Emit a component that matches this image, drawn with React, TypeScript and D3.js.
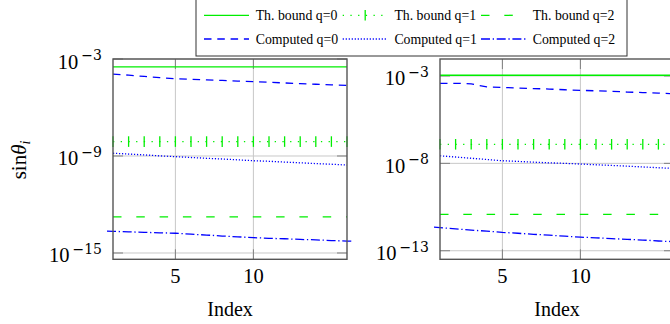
import React from "react";
import * as d3 from "d3";

// Index axis (1..16)
const indices = [1, 2, 3, 4, 5, 6, 7, 8, 9, 10, 11, 12, 13, 14, 15, 16];

// Left panel series
const leftTh0 = [3.3e-4, 3.3e-4, 3.3e-4, 3.3e-4, 3.3e-4, 3.3e-4, 3.3e-4, 3.3e-4, 3.3e-4, 3.3e-4, 3.3e-4, 3.3e-4, 3.3e-4, 3.3e-4, 3.3e-4, 3.3e-4];
const leftC0 = [1.17e-4, 1.0e-4, 8.3e-5, 7.1e-5, 6.0e-5, 5.6e-5, 5.1e-5, 4.7e-5, 4.3e-5, 4.0e-5, 3.6e-5, 3.3e-5, 3.0e-5, 2.75e-5, 2.5e-5, 2.35e-5];
const leftTh1 = [7.8e-9, 7.8e-9, 7.8e-9, 7.8e-9, 7.8e-9, 7.8e-9, 7.8e-9, 7.8e-9, 7.8e-9, 7.8e-9, 7.8e-9, 7.8e-9, 7.8e-9, 7.8e-9, 7.8e-9, 7.8e-9];
const leftC1 = [1.48e-9, 1.32e-9, 1.17e-9, 1.02e-9, 9.1e-10, 8.1e-10, 7.2e-10, 6.5e-10, 5.8e-10, 5.1e-10, 4.7e-10, 4.2e-10, 3.8e-10, 3.4e-10, 3.1e-10, 2.75e-10];
const leftTh2 = [1.7e-13, 1.7e-13, 1.7e-13, 1.7e-13, 1.7e-13, 1.7e-13, 1.7e-13, 1.7e-13, 1.7e-13, 1.7e-13, 1.7e-13, 1.7e-13, 1.7e-13, 1.7e-13, 1.7e-13, 1.7e-13];
const leftC2 = [2.19e-14, 2.04e-14, 1.9e-14, 1.78e-14, 1.66e-14, 1.45e-14, 1.29e-14, 1.12e-14, 1.0e-14, 8.9e-15, 8.1e-15, 7.6e-15, 6.9e-15, 6.5e-15, 5.9e-15, 5.5e-15];

// Right panel series
const rightTh0 = [1.1e-3, 1.1e-3, 1.1e-3, 1.1e-3, 1.1e-3, 1.1e-3, 1.1e-3, 1.1e-3, 1.1e-3, 1.1e-3, 1.1e-3, 1.1e-3, 1.1e-3, 1.1e-3, 1.1e-3, 1.1e-3];
const rightC0 = [3.8e-4, 3.8e-4, 3.55e-4, 2.35e-4, 2.2e-4, 2.05e-4, 1.9e-4, 1.78e-4, 1.62e-4, 1.51e-4, 1.41e-4, 1.32e-4, 1.2e-4, 1.12e-4, 1.05e-4, 9.5e-5];
const rightTh1 = [1.23e-7, 1.23e-7, 1.23e-7, 1.23e-7, 1.23e-7, 1.23e-7, 1.23e-7, 1.23e-7, 1.23e-7, 1.23e-7, 1.23e-7, 1.23e-7, 1.23e-7, 1.23e-7, 1.23e-7, 1.23e-7];
const rightC1 = [2.7e-8, 2.3e-8, 1.95e-8, 1.66e-8, 1.41e-8, 1.29e-8, 1.17e-8, 1.07e-8, 1.0e-8, 9.1e-9, 8.3e-9, 7.6e-9, 6.9e-9, 6.2e-9, 5.6e-9, 5.1e-9];
const rightTh2 = [1.2e-11, 1.2e-11, 1.2e-11, 1.2e-11, 1.2e-11, 1.2e-11, 1.2e-11, 1.2e-11, 1.2e-11, 1.2e-11, 1.2e-11, 1.2e-11, 1.2e-11, 1.2e-11, 1.2e-11, 1.2e-11];
const rightC2 = [2.1e-12, 1.78e-12, 1.51e-12, 1.32e-12, 1.12e-12, 1.0e-12, 8.7e-13, 7.8e-13, 6.8e-13, 6.0e-13, 5.5e-13, 4.9e-13, 4.5e-13, 4.1e-13, 3.6e-13, 3.3e-13];

// Tick labels
const xTicks = [5, 10];
const leftYTickExp = [-3, -9, -15];
const rightYTickExp = [-3, -8, -13];

const legendLabels = [
  "Th. bound q=0",
  "Th. bound q=1",
  "Th. bound q=2",
  "Computed q=0",
  "Computed q=1",
  "Computed q=2",
];

const GREEN = "#00ee00";
const BLUE = "#0000ff";
const SERIF = "'Liberation Serif', 'Times New Roman', serif";
const SUP_SERIF = "'DejaVu Serif', serif";

type Style = { color: string; dash?: string; marks?: boolean; extend?: number };

const styles: Style[] = [
  { color: GREEN },
  { color: GREEN, dash: "1.3 6.4", marks: true },
  { color: GREEN, dash: "8.5 14.8" },
  { color: BLUE, dash: "7.5 5.8" },
  { color: BLUE, dash: "1.2 1.8" },
  { color: BLUE, dash: "9 2.7 1.3 2.7", extend: 6 },
];

type PanelProps = {
  x0: number;
  x1: number;
  yTop: number;
  yBot: number;
  yMaxExp: number;
  yMinExp: number;
  tickExp: number[];
  series: number[][];
  id: string;
};

function Panel({ x0, x1, yTop, yBot, yMaxExp, yMinExp, tickExp, series, id }: PanelProps) {
  const x = d3.scaleLinear().domain([1, 16]).range([x0, x1]);
  const y = d3.scaleLog().domain([Math.pow(10, yMinExp), Math.pow(10, yMaxExp)]).range([yBot, yTop]);
  const line = d3.line<[number, number]>().x((d) => d[0]).y((d) => d[1]);
  const tickLen = 10;

  const paths = series.map((vals, si) => {
    const st = styles[si];
    let pts: [number, number][] = indices.map((ix, i) => [x(ix), y(vals[i])]);
    if (st.extend) {
      const e = st.extend;
      const [a, b] = [pts[0], pts[1]];
      const s0 = (b[1] - a[1]) / (b[0] - a[0]);
      const [c, d] = [pts[pts.length - 2], pts[pts.length - 1]];
      const s1 = (d[1] - c[1]) / (d[0] - c[0]);
      pts = [[a[0] - e, a[1] - s0 * e], ...pts, [d[0] + e, d[1] + s1 * e]];
    }
    return (
      <g key={si}>
        <path d={line(pts) || ""} fill="none" stroke={st.color} strokeWidth={1.3} strokeDasharray={st.dash} />
        {st.marks &&
          indices.map((ix, i) => (
            <line key={i} x1={x(ix)} x2={x(ix)} y1={y(vals[i]) - 5.3} y2={y(vals[i]) + 5.3} stroke={st.color} strokeWidth={1.3} />
          ))}
      </g>
    );
  });

  return (
    <g id={id}>
      {/* grid */}
      {xTicks.map((t) => (
        <line key={"gx" + t} x1={x(t)} x2={x(t)} y1={yTop} y2={yBot} stroke="#c8c8c8" strokeWidth={1} />
      ))}
      {tickExp.map((e) => (
        <line key={"gy" + e} x1={x0} x2={x1} y1={y(Math.pow(10, e))} y2={y(Math.pow(10, e))} stroke="#c8c8c8" strokeWidth={1} />
      ))}
      {/* inner ticks */}
      {xTicks.map((t) => (
        <g key={"tx" + t} stroke="#808080" strokeWidth={1}>
          <line x1={x(t)} x2={x(t)} y1={yBot} y2={yBot - tickLen} />
          <line x1={x(t)} x2={x(t)} y1={yTop} y2={yTop + tickLen} />
        </g>
      ))}
      {tickExp.map((e) => (
        <g key={"ty" + e} stroke="#808080" strokeWidth={1}>
          <line x1={x0} x2={x0 + tickLen} y1={y(Math.pow(10, e))} y2={y(Math.pow(10, e))} />
          <line x1={x1} x2={x1 - tickLen} y1={y(Math.pow(10, e))} y2={y(Math.pow(10, e))} />
        </g>
      ))}
      {paths}
      {/* frame */}
      <rect x={x0} y={yTop} width={x1 - x0} height={yBot - yTop} fill="none" stroke="#555" strokeWidth={1.4} />
      {/* tick labels */}
      {xTicks.map((t) => (
        <text key={"lx" + t} x={x(t)} y={yBot + 24} textAnchor="middle" fontFamily={SERIF} fontSize={20.5}>
          {t}
        </text>
      ))}
      {tickExp.map((e) => (
        <text key={"ly" + e} x={x0 - 11} y={y(Math.pow(10, e)) + 9.5} textAnchor="end" fontFamily={SERIF} fontSize={20.5}>
          10
          <tspan dx={3} dy={-8.5} fontSize={14} fontFamily={SUP_SERIF}>
            {"\u2212" + Math.abs(e)}
          </tspan>
        </text>
      ))}
      <text x={(x0 + x1) / 2} y={yBot + 57} textAnchor="middle" fontFamily={SERIF} fontSize={20}>
        Index
      </text>
    </g>
  );
}

function Legend() {
  const left = 196;
  const right = 627;
  const top = -2;
  const bottom = 56;
  const colX = [204, 342.7, 481];
  const rowY = [15.3, 39];
  const sampleLen = 45;
  return (
    <g>
      <rect x={left} y={top} width={right - left} height={bottom - top} fill="#fff" stroke="#333" strokeWidth={1} />
      {legendLabels.map((lab, i) => {
        const col = i % 3;
        const row = Math.floor(i / 3);
        const st = styles[i];
        const sx = colX[col];
        const sy = rowY[row];
        return (
          <g key={lab}>
            <line x1={sx} x2={sx + sampleLen} y1={sy} y2={sy} stroke={st.color} strokeWidth={1.3} strokeDasharray={st.dash} />
            {st.marks && (
              <line x1={sx + sampleLen / 2} x2={sx + sampleLen / 2} y1={sy - 5.3} y2={sy + 5.3} stroke={st.color} strokeWidth={1.3} />
            )}
            <text x={sx + 51.7} y={sy + 4.8} fontFamily={SERIF} fontSize={13.8}>
              {lab}
            </text>
          </g>
        );
      })}
    </g>
  );
}

export default function App() {
  return (
    <svg
      width={670}
      height={324}
      viewBox="0 0 670 324"
      style={{ position: "absolute", left: 0, top: 0, background: "#fff" }}
    >
      <Panel
        id="left"
        x0={113}
        x1={347}
        yTop={59}
        yBot={259.3}
        yMaxExp={-3}
        yMinExp={-15.39}
        tickExp={leftYTickExp}
        series={[leftTh0, leftTh1, leftTh2, leftC0, leftC1, leftC2]}
      />
      <Panel
        id="right"
        x0={440}
        x1={674}
        yTop={59}
        yBot={259.3}
        yMaxExp={-2.03}
        yMinExp={-13.49}
        tickExp={rightYTickExp}
        series={[rightTh0, rightTh1, rightTh2, rightC0, rightC1, rightC2]}
      />
      <text
        transform="translate(26,160) rotate(-90)"
        textAnchor="middle"
        fontFamily={SERIF}
        fontSize={21}
      >
        sin
        <tspan fontStyle="italic">θ</tspan>
        <tspan fontStyle="italic" fontSize={14} dy={4}>
          i
        </tspan>
      </text>
      <Legend />
    </svg>
  );
}
